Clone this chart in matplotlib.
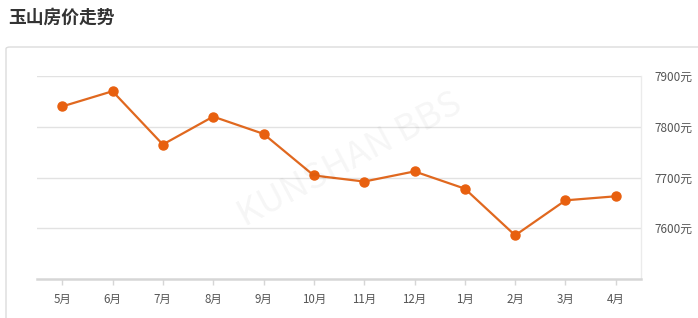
import matplotlib.pyplot as plt
from matplotlib.patches import FancyBboxPatch

plt.rcParams['font.family'] = ['Noto Sans CJK SC', 'DejaVu Sans']

# data
months = ['5月', '6月', '7月', '8月', '9月', '10月', '11月', '12月', '1月', '2月', '3月', '4月']
prices = [7840, 7870, 7765, 7820, 7786, 7704, 7692, 7712, 7678, 7586, 7655, 7663]
y_ticks = [7600, 7700, 7800, 7900]
y_labels = ['%d元' % v for v in y_ticks]

W, H = 698, 318
fig = plt.figure(figsize=(W / 100, H / 100), dpi=100)

# card border
card = FancyBboxPatch((6 / W, -10 / H), 700 / W, (H - 47 + 10) / H,
                      boxstyle='round,pad=0,rounding_size=0.006',
                      transform=fig.transFigure, fill=False,
                      edgecolor='#dcdcdc', linewidth=1.0)
fig.patches.append(card)

fig.text(8 / W, 1 - 18 / H, '玉山房价走势', fontsize=12.8, fontweight='bold',
         color='#333333', va='center', ha='left')

ax = fig.add_axes([37 / W, 39 / H, (641 - 37) / W, (279 - 76) / H])
x = range(len(months))
ax.plot(x, prices, color='#e0681f', linewidth=1.6, marker='o',
        markersize=6.5, markerfacecolor='#e8600f', markeredgecolor='#e8600f',
        zorder=3)

ax.set_xlim(-0.5, len(months) - 0.5)
ax.set_ylim(7500, 7900)
ax.set_xticks(list(x))
ax.set_xticklabels(months)
ax.yaxis.tick_right()
ax.set_yticks(y_ticks)
ax.set_yticklabels(y_labels)
ax.tick_params(axis='y', length=0, pad=10, labelsize=8.5, labelcolor='#555555')
ax.tick_params(axis='x', length=4, width=1, color='#d6d6d6', pad=6,
               labelsize=8.3, labelcolor='#555555')
ax.grid(axis='y', color='#e2e2e2', linewidth=1)
ax.set_axisbelow(True)

for s in ['top', 'left']:
    ax.spines[s].set_visible(False)
ax.spines['right'].set_color('#ebebeb')
ax.spines['right'].set_linewidth(1)
ax.spines['bottom'].set_color('#d6d6d6')
ax.spines['bottom'].set_linewidth(1.8)

# faint watermark
fig.text(350 / W, 1 - 160 / H, 'KUNSHAN BBS', fontsize=26, color='#000000',
         alpha=0.04, rotation=28, ha='center', va='center', style='italic')

fig.savefig('out.png', dpi=100)
